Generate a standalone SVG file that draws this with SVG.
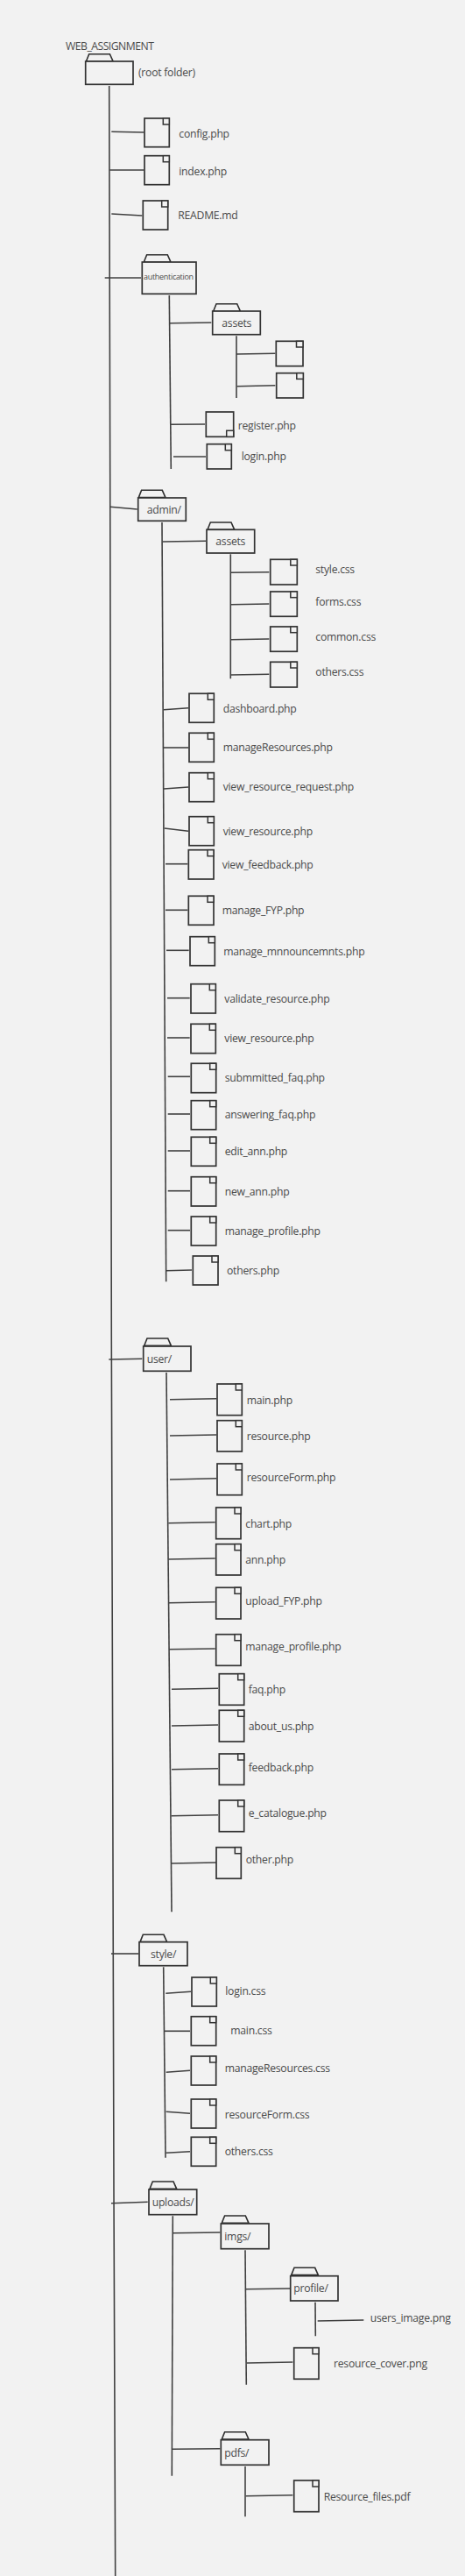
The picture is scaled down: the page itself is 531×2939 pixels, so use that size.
<svg xmlns="http://www.w3.org/2000/svg" xmlns:xlink="http://www.w3.org/1999/xlink" width="531" height="2939" viewBox="0 0 531 2939">
<style>
.bg{fill:#f2f2f2}
line,polyline{stroke:#404040;stroke-width:1.6;fill:none}
.b{fill:#f2f2f2;stroke:#333;stroke-width:1.7}
.k{fill:#f2f2f2;stroke:#333;stroke-width:1.5}
.t{fill:none;stroke:#2e2e2e;stroke-width:1.6}
text{font-family:"Open Sans","Noto Sans","Liberation Sans",sans-serif;font-size:12.2px;letter-spacing:-.25px;fill:#4a4a4a}
.s{font-size:9px;letter-spacing:-.3px}
.u{letter-spacing:-.5px}
</style>
<defs>
<path id="tab" class="t" d="M0 8.3 L3.3 0 H27 L30.7 8.3 Z"/>
</defs>
<rect class="bg" width="531" height="2939"/>
<g id="connectors">
<polyline points="124.7,98 125.7,540 127.3,1530 128.7,2010 130,2500 131.7,2939"/>
<line x1="127.3" y1="150.3" x2="164.3" y2="151"/>
<line x1="125.3" y1="194" x2="164.3" y2="194"/>
<line x1="127.3" y1="244" x2="162.3" y2="246"/>
<line x1="119.7" y1="317" x2="161" y2="317"/>
<line x1="193.3" y1="337" x2="195.3" y2="535"/>
<line x1="193.7" y1="368.7" x2="241.3" y2="368"/>
<line x1="270" y1="383.3" x2="270" y2="454"/>
<line x1="270" y1="404" x2="314.3" y2="403.3"/>
<line x1="270.7" y1="440.7" x2="314.3" y2="439.7"/>
<line x1="194.3" y1="484.3" x2="234" y2="484"/>
<line x1="198" y1="521" x2="235" y2="521"/>
<line x1="125.7" y1="578.3" x2="156.7" y2="581"/>
<line x1="185" y1="596" x2="189.7" y2="1462.3"/>
<line x1="186" y1="618" x2="235" y2="617.3"/>
<line x1="263.3" y1="632.3" x2="263.3" y2="774.3"/>
<line x1="263.7" y1="653.3" x2="307.3" y2="652.7"/>
<line x1="263.7" y1="689.7" x2="307.3" y2="689"/>
<line x1="263.7" y1="729.7" x2="307.3" y2="729"/>
<line x1="263.7" y1="770" x2="307.3" y2="769.3"/>
<line x1="187" y1="809.7" x2="215" y2="807.7"/>
<line x1="186.7" y1="853" x2="215" y2="853"/>
<line x1="187" y1="900" x2="215" y2="898"/>
<line x1="187.7" y1="945" x2="215" y2="948.3"/>
<line x1="189" y1="985.7" x2="214.3" y2="985.7"/>
<line x1="189" y1="1038.3" x2="214.3" y2="1038.3"/>
<line x1="190" y1="1084.3" x2="215.7" y2="1084.3"/>
<line x1="191" y1="1138.7" x2="216.7" y2="1138.7"/>
<line x1="191" y1="1184" x2="216.7" y2="1184"/>
<line x1="191.7" y1="1228.3" x2="217" y2="1228.3"/>
<line x1="191.7" y1="1271" x2="217" y2="1271"/>
<line x1="191.7" y1="1313" x2="217" y2="1313"/>
<line x1="191.7" y1="1358.7" x2="217" y2="1358.7"/>
<line x1="191.7" y1="1403.7" x2="217" y2="1403.7"/>
<line x1="190" y1="1449.7" x2="219" y2="1449"/>
<line x1="124.3" y1="1551" x2="162.3" y2="1550.3"/>
<line x1="190" y1="1566" x2="196" y2="2181.3"/>
<line x1="194" y1="1596.7" x2="247" y2="1595.7"/>
<line x1="194" y1="1638" x2="247" y2="1637"/>
<line x1="194" y1="1688" x2="247" y2="1686.7"/>
<line x1="192.3" y1="1737.7" x2="245.7" y2="1736.7"/>
<line x1="192.3" y1="1779" x2="245.7" y2="1778"/>
<line x1="193" y1="1828.7" x2="245.7" y2="1827.7"/>
<line x1="193" y1="1881.7" x2="245.7" y2="1881"/>
<line x1="196" y1="1927.3" x2="249" y2="1926.3"/>
<line x1="196" y1="1969" x2="249" y2="1968"/>
<line x1="196" y1="2018.7" x2="249" y2="2017.7"/>
<line x1="195.7" y1="2071.7" x2="249" y2="2070.7"/>
<line x1="195.3" y1="2126" x2="247" y2="2125"/>
<line x1="127" y1="2229" x2="158" y2="2229"/>
<line x1="186.7" y1="2244.3" x2="189" y2="2461.7"/>
<line x1="189.3" y1="2274.3" x2="218" y2="2272.3"/>
<line x1="187.7" y1="2317.3" x2="217" y2="2317.3"/>
<line x1="189.7" y1="2364.3" x2="217" y2="2362.3"/>
<line x1="189.7" y1="2409.3" x2="217" y2="2411.3"/>
<line x1="189.7" y1="2456.3" x2="217" y2="2454.7"/>
<line x1="127" y1="2513.7" x2="168.7" y2="2512.3"/>
<line x1="197.3" y1="2528.3" x2="196.3" y2="2824.7"/>
<line x1="197.7" y1="2547.7" x2="251.3" y2="2547"/>
<line x1="280" y1="2567.3" x2="281.3" y2="2720.7"/>
<line x1="280.7" y1="2611.7" x2="333.3" y2="2611"/>
<line x1="360" y1="2626.7" x2="360.3" y2="2665.3"/>
<line x1="362.7" y1="2648" x2="415.3" y2="2647"/>
<line x1="281.7" y1="2696" x2="334.3" y2="2695"/>
<line x1="196.7" y1="2794.3" x2="251.3" y2="2793.7"/>
<line x1="280" y1="2814" x2="280" y2="2871.3"/>
<line x1="280.7" y1="2847.7" x2="334.3" y2="2846.7"/>
</g>
<g id="root"><use xlink:href="#tab" href="#tab" x="98.4" y="61.7"/><rect class="b" x="97.7" y="70" width="54.3" height="26.3"/><text class="u" x="75" y="57">WEB_ASSIGNMENT</text><text x="158" y="87.3">(root folder)</text></g>
<g id="config"><rect class="b" x="165" y="135" width="28.3" height="32.7"/><rect class="k" x="186.3" y="135" width="7" height="7"/><text x="204.3" y="156.7">config.php</text></g>
<g id="index"><rect class="b" x="165" y="177.7" width="28.3" height="33"/><rect class="k" x="186.3" y="177.7" width="7" height="7"/><text x="204.3" y="199.7">index.php</text></g>
<g id="readme"><rect class="b" x="163.3" y="229" width="28.4" height="33"/><rect class="k" x="184.7" y="229" width="7" height="7"/><text x="203.3" y="250">README.md</text></g>
<g id="authentication"><use xlink:href="#tab" href="#tab" x="164.3" y="290.7"/><rect class="b" x="162.3" y="299" width="61.7" height="36.3"/><text class="s" x="164" y="318.7">authentication</text></g>
<g id="auth-assets"><use xlink:href="#tab" href="#tab" x="243.7" y="346.7"/><rect class="b" x="242.7" y="355" width="54.6" height="26.7"/><text x="253.3" y="373">assets</text></g>
<g id="auth-asset-1"><rect class="b" x="315.3" y="389.3" width="30.7" height="28.4"/><rect class="k" x="338.5" y="389.3" width="7.5" height="6.7"/></g>
<g id="auth-asset-2"><rect class="b" x="315.7" y="425.7" width="30.6" height="28.3"/><rect class="k" x="338.8" y="425.7" width="7.5" height="6.7"/></g>
<g id="register"><rect class="b" x="235.3" y="470" width="31.4" height="28.3"/><rect class="k" x="258.7" y="491.3" width="8" height="7"/><text x="271.7" y="490.3">register.php</text></g>
<g id="login"><rect class="b" x="236.3" y="506.7" width="28" height="28.3"/><rect class="k" x="257.3" y="506.7" width="7" height="7"/><text x="275.7" y="525.3">login.php</text></g>

<g id="admin"><use xlink:href="#tab" href="#tab" x="158.3" y="559.3"/><rect class="b" x="157.7" y="568" width="54.6" height="26.3"/><text x="167.7" y="585.7">admin/</text></g>
<g id="admin-assets"><use xlink:href="#tab" href="#tab" x="237" y="596"/><rect class="b" x="236" y="604.3" width="54.7" height="26.7"/><text x="246.3" y="621.7">assets</text></g>
<g id="style-css"><rect class="b" x="308.7" y="638.3" width="30.6" height="28.7"/><rect class="k" x="331.8" y="638.3" width="7.5" height="6.7"/><text x="360.3" y="654">style.css</text></g>
<g id="forms-css"><rect class="b" x="308.7" y="675" width="30.6" height="28.3"/><rect class="k" x="331.8" y="675" width="7.5" height="6.7"/><text x="360.3" y="691">forms.css</text></g>
<g id="common-css"><rect class="b" x="308.7" y="715" width="30.6" height="28.3"/><rect class="k" x="331.8" y="715" width="7.5" height="6.7"/><text x="360.3" y="731">common.css</text></g>
<g id="others-css"><rect class="b" x="308.7" y="755.3" width="30.6" height="28.7"/><rect class="k" x="331.8" y="755.3" width="7.5" height="6.7"/><text x="360.3" y="771">others.css</text></g>
<g id="dashboard"><rect class="b" x="216" y="791.3" width="28.3" height="33"/><rect class="k" x="237.3" y="791.3" width="7" height="7"/><text x="254.7" y="813">dashboard.php</text></g>
<g id="manageresources"><rect class="b" x="216" y="836.3" width="28.3" height="33"/><rect class="k" x="237.3" y="836.3" width="7" height="7"/><text x="254.7" y="857">manageResources.php</text></g>
<g id="view-resource-request"><rect class="b" x="216" y="881.7" width="28.3" height="33"/><rect class="k" x="237.3" y="881.7" width="7" height="7"/><text x="254.7" y="902">view_resource_request.php</text></g>
<g id="view-resource"><rect class="b" x="216" y="931.7" width="28.3" height="33"/><rect class="k" x="237.3" y="931.7" width="7" height="7"/><text x="254.7" y="953">view_resource.php</text></g>
<g id="view-feedback"><rect class="b" x="215.3" y="969.7" width="28.7" height="33.3"/><rect class="k" x="237" y="969.7" width="7" height="7"/><text x="253.7" y="991">view_feedback.php</text></g>
<g id="manage-fyp"><rect class="b" x="215.3" y="1022.3" width="28.7" height="33"/><rect class="k" x="237" y="1022.3" width="7" height="7"/><text x="253.7" y="1043">manage_FYP.php</text></g>
<g id="manage-mnnouncemnts"><rect class="b" x="217" y="1068.7" width="28.3" height="33"/><rect class="k" x="238.3" y="1068.7" width="7" height="7"/><text x="255.3" y="1090">manage_mnnouncemnts.php</text></g>
<g id="validate-resource"><rect class="b" x="218" y="1122.7" width="28.3" height="33.3"/><rect class="k" x="239.3" y="1122.7" width="7" height="7"/><text x="256.3" y="1144">validate_resource.php</text></g>
<g id="view-resource-2"><rect class="b" x="218" y="1168.3" width="28.3" height="33.4"/><rect class="k" x="239.3" y="1168.3" width="7" height="7"/><text x="256.3" y="1189">view_resource.php</text></g>
<g id="submmitted-faq"><rect class="b" x="218.3" y="1213.3" width="28.4" height="33.4"/><rect class="k" x="239.7" y="1213.3" width="7" height="7"/><text x="256.7" y="1234">submmitted_faq.php</text></g>
<g id="answering-faq"><rect class="b" x="218.3" y="1255.7" width="28.4" height="33"/><rect class="k" x="239.7" y="1255.7" width="7" height="7"/><text x="256.7" y="1276">answering_faq.php</text></g>
<g id="edit-ann"><rect class="b" x="218.3" y="1297.3" width="28.4" height="33"/><rect class="k" x="239.7" y="1297.3" width="7" height="7"/><text x="256.7" y="1318">edit_ann.php</text></g>
<g id="new-ann"><rect class="b" x="218.3" y="1342.7" width="28.4" height="33.3"/><rect class="k" x="239.7" y="1342.7" width="7" height="7"/><text x="256.7" y="1364">new_ann.php</text></g>
<g id="manage-profile"><rect class="b" x="218.3" y="1388" width="28.4" height="33"/><rect class="k" x="239.7" y="1388" width="7" height="7"/><text x="256.7" y="1409">manage_profile.php</text></g>
<g id="others-php"><rect class="b" x="220.3" y="1433" width="28.7" height="33"/><rect class="k" x="242" y="1433" width="7" height="7"/><text x="259" y="1454">others.php</text></g>

<g id="user"><use xlink:href="#tab" href="#tab" x="164.7" y="1527"/><rect class="b" x="163.7" y="1536" width="54.3" height="28.3"/><text x="167.7" y="1555">user/</text></g>
<g id="main"><rect class="b" x="248" y="1579" width="28.3" height="35.7"/><rect class="k" x="269.3" y="1579" width="7" height="7"/><text x="281.7" y="1602">main.php</text></g>
<g id="resource"><rect class="b" x="248" y="1620.7" width="28.3" height="35.3"/><rect class="k" x="269.3" y="1620.7" width="7" height="7"/><text x="281.7" y="1643">resource.php</text></g>
<g id="resourceform"><rect class="b" x="248" y="1670" width="28.3" height="35.7"/><rect class="k" x="269.3" y="1670" width="7" height="7"/><text x="281.7" y="1690">resourceForm.php</text></g>
<g id="chart"><rect class="b" x="246.7" y="1720" width="28.3" height="35.7"/><rect class="k" x="268" y="1720" width="7" height="7"/><text x="280.3" y="1743">chart.php</text></g>
<g id="ann"><rect class="b" x="246.7" y="1761.7" width="28.3" height="35.3"/><rect class="k" x="268" y="1761.7" width="7" height="7"/><text x="280.3" y="1784">ann.php</text></g>
<g id="upload-fyp"><rect class="b" x="246.7" y="1811.3" width="28.3" height="35.7"/><rect class="k" x="268" y="1811.3" width="7" height="7"/><text x="280.3" y="1831">upload_FYP.php</text></g>
<g id="user-manage-profile"><rect class="b" x="246.7" y="1864.7" width="28.3" height="35.6"/><rect class="k" x="268" y="1864.7" width="7" height="7"/><text x="280.3" y="1883">manage_profile.php</text></g>
<g id="faq"><rect class="b" x="250.3" y="1909.7" width="28.4" height="35.6"/><rect class="k" x="271.7" y="1909.7" width="7" height="7"/><text x="283.7" y="1932">faq.php</text></g>
<g id="about-us"><rect class="b" x="250.3" y="1951.3" width="28.4" height="35.7"/><rect class="k" x="271.7" y="1951.3" width="7" height="7"/><text x="283.7" y="1974">about_us.php</text></g>
<g id="feedback"><rect class="b" x="250.3" y="2001" width="28.4" height="35.3"/><rect class="k" x="271.7" y="2001" width="7" height="7"/><text x="283.7" y="2021">feedback.php</text></g>
<g id="e-catalogue"><rect class="b" x="250.3" y="2054" width="28.4" height="35.7"/><rect class="k" x="271.7" y="2054" width="7" height="7"/><text x="283.7" y="2073">e_catalogue.php</text></g>
<g id="other"><rect class="b" x="247" y="2107.7" width="28.3" height="35.6"/><rect class="k" x="268.3" y="2107.7" width="7" height="7"/><text x="280.7" y="2126">other.php</text></g>

<g id="style"><use xlink:href="#tab" href="#tab" x="160" y="2207.3"/><rect class="b" x="159" y="2215.7" width="55" height="27"/><text x="172" y="2234">style/</text></g>
<g id="login-css"><rect class="b" x="219" y="2256" width="28.3" height="33"/><rect class="k" x="240.3" y="2256" width="7" height="7"/><text x="257.3" y="2276">login.css</text></g>
<g id="main-css"><rect class="b" x="218.3" y="2300.7" width="28.4" height="33"/><rect class="k" x="239.7" y="2300.7" width="7" height="7"/><text x="263.3" y="2321">main.css</text></g>
<g id="manageresources-css"><rect class="b" x="218.3" y="2346" width="28.4" height="33"/><rect class="k" x="239.7" y="2346" width="7" height="7"/><text x="256.7" y="2364">manageResources.css</text></g>
<g id="resourceform-css"><rect class="b" x="218.3" y="2395" width="28.4" height="33"/><rect class="k" x="239.7" y="2395" width="7" height="7"/><text x="256.7" y="2417">resourceForm.css</text></g>
<g id="others-css-2"><rect class="b" x="218.3" y="2438.3" width="28.4" height="33"/><rect class="k" x="239.7" y="2438.3" width="7" height="7"/><text x="256.7" y="2459">others.css</text></g>

<g id="uploads"><use xlink:href="#tab" href="#tab" x="171" y="2489"/><rect class="b" x="170" y="2498" width="54.7" height="28.7"/><text x="173.7" y="2516.7">uploads/</text></g>
<g id="imgs"><use xlink:href="#tab" href="#tab" x="253.3" y="2528"/><rect class="b" x="252.3" y="2537" width="54.7" height="28.7"/><text x="256.3" y="2556">imgs/</text></g>
<g id="profile"><use xlink:href="#tab" href="#tab" x="332.7" y="2587.3"/><rect class="b" x="331.7" y="2596.7" width="54.3" height="28.3"/><text x="335.3" y="2614.7">profile/</text></g>
<g id="users-image"><text x="422.7" y="2649">users_image.png</text></g>
<g id="resource-cover"><rect class="b" x="335.7" y="2678.7" width="28.3" height="35.6"/><rect class="k" x="357" y="2678.7" width="7" height="7"/><text x="381" y="2701">resource_cover.png</text></g>
<g id="pdfs"><use xlink:href="#tab" href="#tab" x="253.3" y="2774.7"/><rect class="b" x="252.3" y="2783.7" width="54.7" height="28.6"/><text x="256.3" y="2803">pdfs/</text></g>
<g id="resource-files"><rect class="b" x="335.7" y="2830" width="28.3" height="35.7"/><rect class="k" x="357" y="2830" width="7" height="7"/><text x="369.7" y="2852.7">Resource_files.pdf</text></g>
</svg>
